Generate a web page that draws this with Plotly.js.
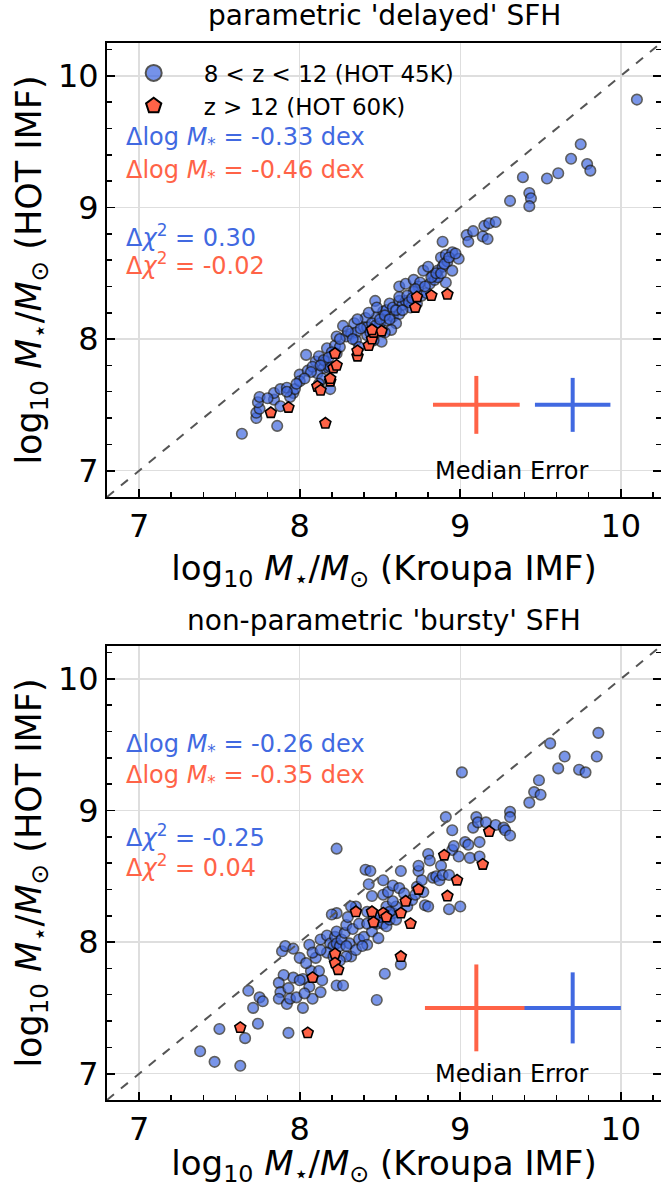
<!DOCTYPE html>
<html><head><meta charset="utf-8">
<script src="https://cdn.plot.ly/plotly-3.0.1.min.js"></script>
<style>html,body{margin:0;padding:0;background:#fff}</style>
</head><body>
<div id="chart" style="width:661px;height:1188px"></div>
<script>
// ---------- data: top panel (parametric 'delayed' SFH) ----------
const delayedBlueKroupa = [7.64,7.86,7.73,7.73,7.75,7.74,7.75,7.84,7.84,7.88,7.92,7.96,7.94,7.97,7.88,8.00,8.00,8.05,8.04,8.10,8.12,8.16,8.15,8.18,8.11,8.19,8.14,8.17,8.22,8.23,8.27,8.34,8.41,8.47,8.51,8.29,8.32,8.35,8.40,8.42,8.46,8.48,8.52,8.54,8.56,8.58,8.62,8.64,8.66,8.62,8.66,8.71,8.74,8.71,8.75,8.77,8.80,8.83,8.86,8.88,8.91,8.95,8.99,8.95,8.91,8.89,9.04,9.05,9.08,9.14,9.17,9.15,9.18,9.22,8.23,8.25,8.35,8.37,8.42,8.45,8.50,8.54,8.58,8.62,8.69,8.73,8.76,8.79,8.81,8.84,8.86,8.89,8.92,8.60,8.57,8.53,8.62,8.67,8.19,8.15,8.08,8.12,9.39,9.43,9.44,9.43,9.31,9.54,9.61,9.69,9.75,9.79,9.81,10.10,
  8.30,8.33,8.38,8.44,8.47,8.50,8.53,8.56,8.60,8.64,8.68,8.70,8.72,8.78,8.82,8.85,8.88,8.90,8.93,8.97,8.25,8.20,8.18,8.13,8.07,8.03,7.98,7.92,7.80,8.36,8.43,8.48];
const delayedBlueHot    = [7.28,7.34,7.40,7.44,7.47,7.52,7.56,7.54,7.59,7.62,7.63,7.59,7.56,7.62,7.49,7.73,7.68,7.76,7.88,7.83,7.87,7.83,7.78,7.78,7.74,7.62,7.70,7.93,7.95,8.02,8.10,8.12,8.16,8.29,7.98,8.02,8.04,8.05,8.09,8.03,7.99,8.17,8.21,8.22,8.27,8.24,8.29,8.26,8.29,8.40,8.42,8.45,8.40,8.36,8.43,8.52,8.55,8.48,8.52,8.62,8.64,8.66,8.61,8.52,8.43,8.74,8.79,8.74,8.82,8.78,8.76,8.86,8.88,8.89,7.89,7.94,7.99,7.94,8.09,8.12,8.12,8.14,8.17,8.19,8.24,8.27,8.33,8.35,8.42,8.45,8.47,8.55,8.59,8.12,8.07,8.05,8.32,8.33,7.79,7.84,7.79,7.66,9.23,9.11,9.07,9.01,9.05,9.22,9.26,9.37,9.48,9.33,9.28,9.82,
  8.06,8.00,8.08,8.05,8.10,8.15,8.18,8.15,8.22,8.22,8.28,8.31,8.38,8.40,8.47,8.50,8.50,8.57,8.62,8.65,8.00,7.90,7.86,7.80,7.75,7.70,7.66,7.60,7.55,8.15,8.20,8.24];
const delayedRedKroupa  = [7.82,7.93,8.16,8.11,8.13,8.19,8.19,8.21,8.23,8.22,8.36,8.36,8.43,8.45,8.46,8.51,8.45,8.72,8.73,8.82,8.92];
const delayedRedHot     = [7.44,7.48,7.36,7.64,7.61,7.68,7.70,7.78,7.80,7.89,7.87,7.91,7.95,8.00,8.05,8.06,8.07,8.24,8.32,8.33,8.34];

// ---------- data: bottom panel (non-parametric 'bursty' SFH) ----------
const burstyBlueKroupa = [7.38,7.47,7.63,7.50,7.66,7.74,7.71,7.75,7.77,7.68,7.93,8.02,8.08,8.13,8.06,8.14,8.02,7.96,7.90,7.87,7.88,7.87,7.92,7.93,7.94,7.98,7.89,7.91,7.96,8.00,8.06,8.07,8.10,8.12,8.13,8.17,8.19,8.21,8.22,8.23,8.23,8.25,8.26,8.28,8.29,8.30,8.33,8.31,8.32,8.29,8.23,8.27,8.35,8.37,8.40,8.42,8.45,8.48,8.49,8.52,8.54,8.56,8.58,8.60,8.54,8.52,8.55,8.58,8.62,8.63,8.65,8.67,8.70,8.72,8.73,8.74,8.74,8.76,8.77,8.78,8.80,8.80,8.81,8.83,8.85,8.87,8.88,8.89,8.91,8.93,8.93,8.95,8.95,8.96,8.99,9.00,9.03,9.05,9.06,9.08,9.10,9.11,9.12,9.12,9.16,9.22,9.27,9.28,9.31,9.31,9.31,9.43,9.46,9.50,8.23,8.41,8.44,8.43,8.52,8.48,8.53,8.63,8.23,8.20,8.42,8.45,8.37,8.46,8.58,8.60,8.50,8.56,8.35,8.32,8.42,8.04,8.08,8.17,8.21,8.25,8.29,8.39,8.13,8.00,8.03,9.01,9.56,9.86,9.85,9.65,9.61,9.74,9.78,9.49];
const burstyBlueHot    = [7.17,7.09,7.06,7.34,7.27,7.38,7.50,7.58,7.55,7.63,7.31,7.50,7.57,7.62,7.66,7.71,7.72,7.73,7.75,7.69,7.62,7.57,7.53,7.65,7.57,7.58,7.93,7.97,7.95,7.88,7.98,7.78,7.88,7.78,8.02,8.05,7.99,7.97,8.04,8.08,7.99,7.97,8.02,8.07,8.13,8.19,8.10,7.99,7.89,7.89,7.67,7.67,7.94,8.02,8.04,7.98,8.08,8.14,8.03,8.14,8.12,8.17,8.22,8.27,8.27,8.36,8.38,8.43,8.41,8.54,8.37,8.27,8.32,8.36,8.42,8.54,8.58,8.47,8.38,8.28,8.27,8.67,8.62,8.49,8.50,8.47,8.58,8.51,8.95,8.51,8.25,8.85,8.70,8.73,8.65,8.27,8.76,8.74,8.64,8.87,8.95,8.91,8.76,8.65,8.91,8.89,8.87,8.85,8.81,8.99,8.95,9.06,9.14,9.12,8.71,8.55,8.54,8.44,8.47,7.56,7.76,7.83,8.22,8.21,8.23,8.35,8.14,8.17,8.31,8.17,8.19,8.23,8.27,8.27,8.14,7.84,7.92,7.92,7.89,7.86,7.97,7.97,7.94,7.71,7.61,9.29,9.51,9.59,9.41,9.41,9.32,9.31,9.29,9.23];
const burstyRedKroupa  = [7.63,8.05,8.08,8.22,8.22,8.24,8.35,8.45,8.46,8.52,8.54,8.63,8.66,8.69,8.63,8.74,8.90,8.92,8.98,9.14,9.18];
const burstyRedHot     = [7.35,7.31,7.73,7.91,7.84,7.79,8.23,8.23,8.15,8.22,8.19,8.22,8.31,8.14,7.89,8.40,8.66,8.35,8.47,8.59,8.84];

// ---------- median errors (centre x, centre y, err x, err y) ----------
const delayedErrRed  = [9.10, 7.50, 0.27, 0.22];
const delayedErrBlue = [9.70, 7.50, 0.235, 0.205];
const burstyErrRed   = [9.10, 7.50, 0.32, 0.33];
const burstyErrBlue  = [9.70, 7.50, 0.30, 0.27];

// ---------- text ----------
const panelTitles = ["parametric 'delayed' SFH", "non-parametric 'bursty' SFH"];
const dMassText = [["-0.33", "-0.46"], ["-0.26", "-0.35"]];
const dChiText  = [["0.30", "-0.02"], ["-0.25", "0.04"]];
const legendNames = ["8 &lt; z &lt; 12 (HOT 45K)", "z &gt; 12 (HOT 60K)"];
const axisRange = [6.8, 10.25];
const majorTicks = [7, 8, 9, 10];

const BLUE = '#4169E1', RED = '#FF6347';
const FONT = 'DejaVu Sans, sans-serif';

function blueTrace(x, y, xa, ya) {
  return {x: x, y: y, xaxis: xa, yaxis: ya, type: 'scatter', mode: 'markers', showlegend: false,
    marker: {symbol: 'circle', size: 10.5, color: BLUE, opacity: 0.7, line: {color: '#1a1a1a', width: 1.6}}};
}
function redTrace(x, y, xa, ya) {
  return {x: x, y: y, xaxis: xa, yaxis: ya, type: 'scatter', mode: 'markers', showlegend: false,
    marker: {symbol: 'pentagon', size: 11.5, color: RED, line: {color: '#000', width: 1.6}}};
}
function errTrace(e, color, xa, ya) {
  return {x: [e[0]], y: [e[1]], xaxis: xa, yaxis: ya, type: 'scatter', mode: 'markers', showlegend: false,
    marker: {size: 1, color: 'rgba(0,0,0,0)'}, hoverinfo: 'skip',
    error_x: {type: 'data', array: [e[2]], color: color, thickness: 4, width: 0},
    error_y: {type: 'data', array: [e[3]], color: color, thickness: 4, width: 0}};
}

const traces = [
  errTrace(delayedErrRed, RED, 'x', 'y'), errTrace(delayedErrBlue, BLUE, 'x', 'y'),
  errTrace(burstyErrRed, RED, 'x2', 'y2'), errTrace(burstyErrBlue, BLUE, 'x2', 'y2'),
  blueTrace(delayedBlueKroupa, delayedBlueHot, 'x', 'y'),
  redTrace(delayedRedKroupa, delayedRedHot, 'x', 'y'),
  blueTrace(burstyBlueKroupa, burstyBlueHot, 'x2', 'y2'),
  redTrace(burstyRedKroupa, burstyRedHot, 'x2', 'y2'),
  // legend-only entries
  {x: [null], y: [null], xaxis: 'x', yaxis: 'y', type: 'scatter', mode: 'markers', name: legendNames[0],
   marker: {symbol: 'circle', size: 16, color: BLUE, opacity: 0.72, line: {color: '#111', width: 2}}},
  {x: [null], y: [null], xaxis: 'x', yaxis: 'y', type: 'scatter', mode: 'markers', name: legendNames[1],
   marker: {symbol: 'pentagon', size: 16, color: RED, line: {color: '#000', width: 2}}}
];

const xTitle = 'log<sub>10</sub> <i>M</i><sub>⋆</sub>/<i>M</i><sub>⊙</sub> (Kroupa IMF)';
const yTitle = 'log<sub>10</sub> <i>M</i><sub>⋆</sub>/<i>M</i><sub>⊙</sub> (HOT IMF)';

function xAxis(anchor) {
  return {domain: [0, 1], anchor: anchor, range: axisRange, tickvals: majorTicks, ticks: 'inside', ticklen: 8, tickwidth: 1.8,
    tickcolor: '#000', showline: true, linecolor: '#000', linewidth: 2, mirror: true,
    showgrid: true, gridcolor: '#dedede', gridwidth: 1.5, zeroline: false,
    tickfont: {family: FONT, size: 32, color: '#000'},
    minor: {dtick: 0.2, tick0: 7, ticks: 'inside', ticklen: 5, tickwidth: 1.5, tickcolor: '#000', showgrid: false},
    title: {text: xTitle, font: {family: FONT, size: 34, color: '#000'}, standoff: 12}};
}
function yAxis(anchor, domain) {
  return {domain: domain, anchor: anchor, range: axisRange, tickvals: majorTicks, ticks: 'inside', ticklen: 8, tickwidth: 1.8,
    tickcolor: '#000', showline: true, linecolor: '#000', linewidth: 2, mirror: 'ticks',
    showgrid: true, gridcolor: '#dedede', gridwidth: 1.5, zeroline: false,
    tickfont: {family: FONT, size: 32, color: '#000'},
    minor: {dtick: 0.2, tick0: 7, ticks: 'inside', ticklen: 5, tickwidth: 1.5, tickcolor: '#000', showgrid: false},
    title: {text: yTitle, font: {family: FONT, size: 35, color: '#000'}, standoff: 6}};
}

const annotations = [];
[['x', 'y'], ['x2', 'y2']].forEach((ax, i) => {
  const xr = ax[0] + ' domain', yr = ax[1] + ' domain';
  annotations.push({xref: xr, yref: yr, x: 0.5, y: i === 0 ? 1.061 : 1.056, text: panelTitles[i], showarrow: false,
    xanchor: 'center', yanchor: 'middle', font: {family: FONT, size: 28, color: '#000'}});
  const ys = i === 0 ? [0.789, 0.718, 0.575, 0.513] : [0.781, 0.713, 0.581, 0.515];
  annotations.push({xref: xr, yref: yr, x: 0.03, y: ys[0], xanchor: 'left', yanchor: 'middle', showarrow: false,
    text: 'Δlog <i>M</i><sub>*</sub> = ' + dMassText[i][0] + ' dex', font: {family: FONT, size: 24, color: BLUE}});
  annotations.push({xref: xr, yref: yr, x: 0.03, y: ys[1], xanchor: 'left', yanchor: 'middle', showarrow: false,
    text: 'Δlog <i>M</i><sub>*</sub> = ' + dMassText[i][1] + ' dex', font: {family: FONT, size: 24, color: RED}});
  annotations.push({xref: xr, yref: yr, x: 0.03, y: ys[2], xanchor: 'left', yanchor: 'middle', showarrow: false,
    text: 'Δ<i>χ</i><sup>2</sup> = ' + dChiText[i][0], font: {family: FONT, size: 24, color: BLUE}});
  annotations.push({xref: xr, yref: yr, x: 0.03, y: ys[3], xanchor: 'left', yanchor: 'middle', showarrow: false,
    text: 'Δ<i>χ</i><sup>2</sup> = ' + dChiText[i][1], font: {family: FONT, size: 24, color: RED}});
  annotations.push({xref: ax[0], yref: yr, x: 9.32, y: 0.057, xanchor: 'center', yanchor: 'middle', showarrow: false,
    text: 'Median Error', font: {family: FONT, size: 24, color: '#000'}});
});

const shapes = [['x', 'y'], ['x2', 'y2']].map(ax => ({type: 'line', xref: ax[0], yref: ax[1],
  x0: axisRange[0], y0: axisRange[0], x1: axisRange[1], y1: axisRange[1],
  line: {color: '#555', width: 2, dash: 'dash'}, layer: 'above'}));

const layout = {
  width: 661, height: 1188, paper_bgcolor: '#fff', plot_bgcolor: '#fff',
  margin: {l: 107, r: 0, t: 43, b: 88},
  font: {family: FONT, color: '#000'},
  xaxis: xAxis('y'), yaxis: yAxis('x', [0.5705, 1]),
  xaxis2: xAxis('y2'), yaxis2: yAxis('x2', [0, 0.4295]),
  showlegend: true,
  legend: {x: -0.006, y: 0.992, xanchor: 'left', yanchor: 'top', bgcolor: 'rgba(0,0,0,0)',
    font: {family: FONT, size: 23, color: '#000'}, itemwidth: 90, tracegroupgap: 0},
  annotations: annotations, shapes: shapes
};

Plotly.newPlot('chart', traces, layout, {staticPlot: true});
</script>
</body></html>
